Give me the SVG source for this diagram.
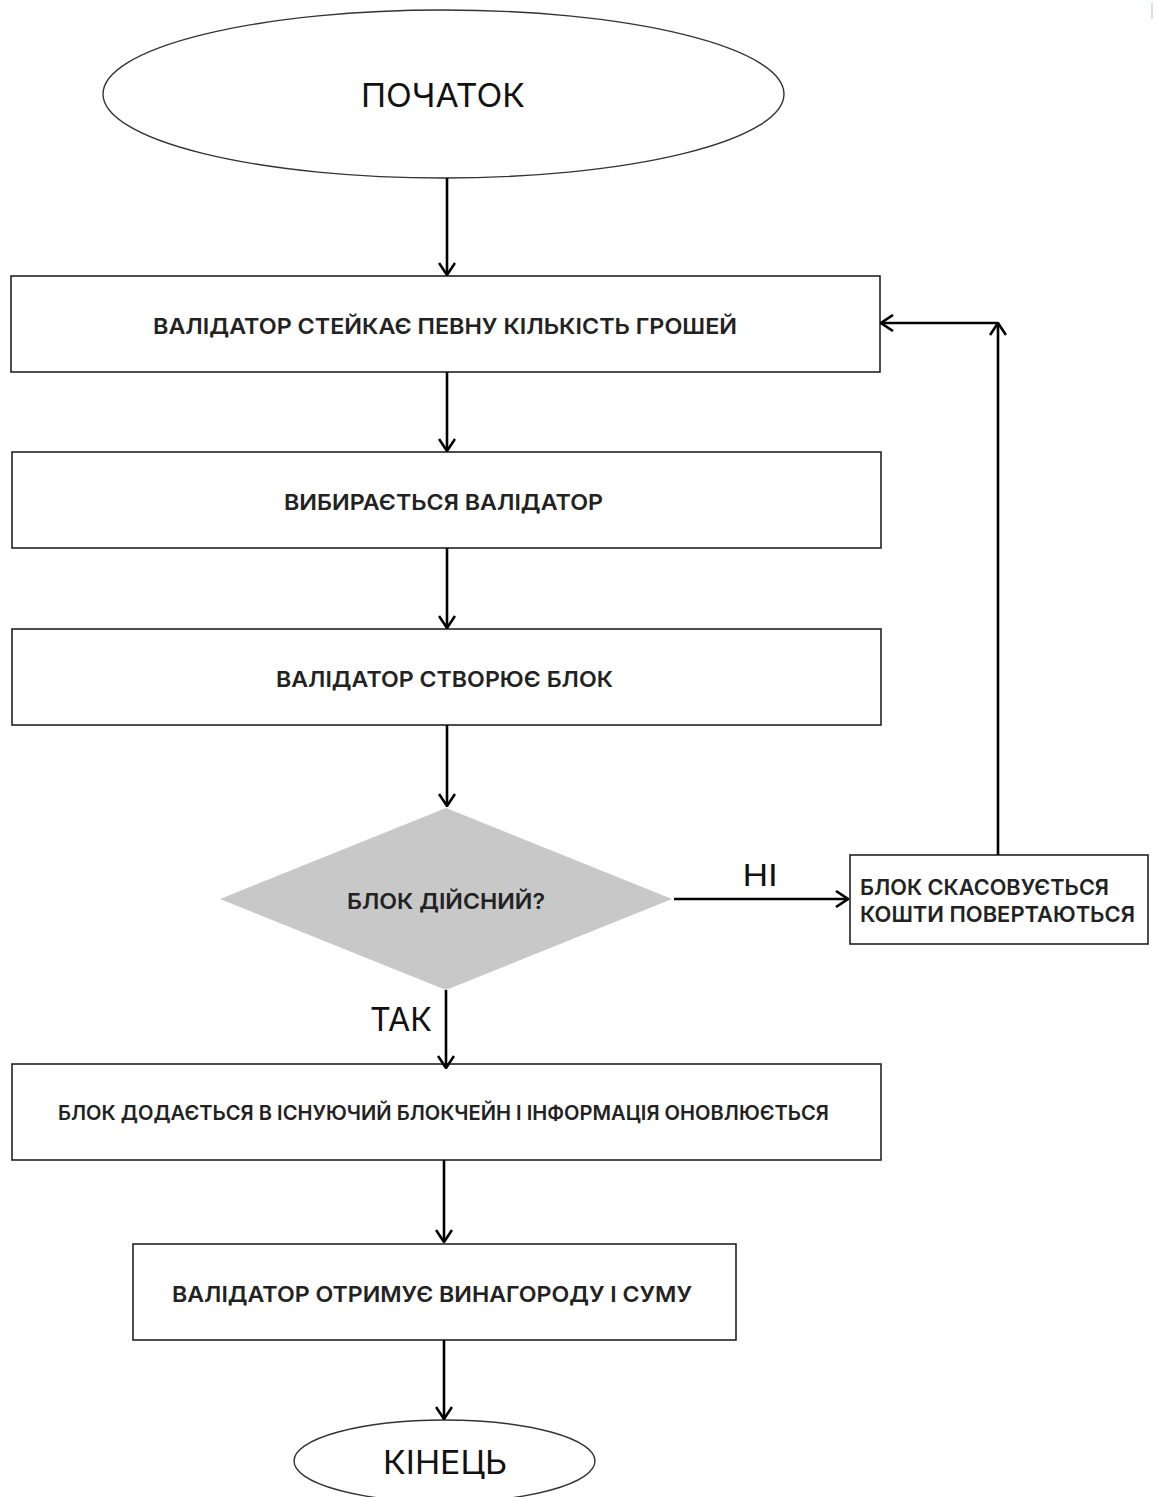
<svg xmlns="http://www.w3.org/2000/svg" width="1155" height="1497" viewBox="0 0 1155 1497">
<style>
.box{fill:#fff;stroke:#222;stroke-width:1.6}
.ell{fill:#fff;stroke:#333;stroke-width:1.4}
.dia{fill:#c8c8c8;stroke:none}
.t{font-family:Inter,"Liberation Sans",Arial,sans-serif;font-weight:600;fill:#222;text-anchor:middle;dominant-baseline:central}
.tl{font-family:Inter,"Liberation Sans",Arial,sans-serif;font-weight:600;fill:#222;dominant-baseline:central}
.big{font-weight:400;fill:#111}
.c{fill:none;stroke:#000;stroke-width:2.6}
</style>
<defs>
<marker id="arr" markerUnits="userSpaceOnUse" viewBox="0 0 14 18" refX="13" refY="9" markerWidth="14" markerHeight="18" orient="auto">
<path d="M1,1 L13,9 L1,17" fill="none" stroke="#000" stroke-width="2.6"/>
</marker>
</defs>
<rect width="1155" height="1497" fill="#fff"/>
<rect x="1151" y="3" width="2" height="16" fill="#cfe6dc"/>

<g id="start">
<ellipse class="ell" cx="443.5" cy="94" rx="340.5" ry="84"/>
<text class="t big" x="443" y="95" font-size="32" textLength="164" lengthAdjust="spacingAndGlyphs">ПОЧАТОК</text>
</g>
<g id="stake">
<rect class="box" x="11" y="276" width="869" height="96"/>
<text class="t" x="445" y="326" font-size="22" textLength="584" lengthAdjust="spacingAndGlyphs">ВАЛІДАТОР СТЕЙКАЄ ПЕВНУ КІЛЬКІСТЬ ГРОШЕЙ</text>
</g>
<g id="select">
<rect class="box" x="12" y="452" width="869" height="96"/>
<text class="t" x="443.5" y="502" font-size="22" textLength="319" lengthAdjust="spacingAndGlyphs">ВИБИРАЄТЬСЯ ВАЛІДАТОР</text>
</g>
<g id="create">
<rect class="box" x="12" y="629" width="869" height="96"/>
<text class="t" x="444.5" y="679" font-size="22" textLength="337" lengthAdjust="spacingAndGlyphs">ВАЛІДАТОР СТВОРЮЄ БЛОК</text>
</g>
<g id="decision">
<polygon class="dia" points="446,808 672,899 446,990 220,899"/>
<text class="t" x="446" y="901" font-size="22" textLength="198" lengthAdjust="spacingAndGlyphs">БЛОК ДІЙСНИЙ?</text>
</g>
<g id="cancel">
<rect class="box" x="850" y="855" width="298" height="89"/>
<text class="tl" x="860" y="887" font-size="22" textLength="249" lengthAdjust="spacingAndGlyphs">БЛОК СКАСОВУЄТЬСЯ</text>
<text class="tl" x="860" y="914" font-size="22" textLength="275" lengthAdjust="spacingAndGlyphs">КОШТИ ПОВЕРТАЮТЬСЯ</text>
</g>
<g id="add">
<rect class="box" x="12" y="1064" width="869" height="96"/>
<text class="t" x="443.5" y="1113" font-size="20" textLength="771" lengthAdjust="spacingAndGlyphs">БЛОК ДОДАЄТЬСЯ В ІСНУЮЧИЙ БЛОКЧЕЙН І ІНФОРМАЦІЯ ОНОВЛЮЄТЬСЯ</text>
</g>
<g id="reward">
<rect class="box" x="133" y="1244" width="603" height="96"/>
<text class="t" x="432" y="1294" font-size="22" textLength="520" lengthAdjust="spacingAndGlyphs">ВАЛІДАТОР ОТРИМУЄ ВИНАГОРОДУ І СУМУ</text>
</g>
<g id="end">
<ellipse class="ell" cx="444.5" cy="1461" rx="150.5" ry="41"/>
<text class="t big" x="445" y="1462" font-size="32" textLength="124" lengthAdjust="spacingAndGlyphs">КІНЕЦЬ</text>
</g>

<g id="connectors">
<line class="c" x1="447" y1="178" x2="447" y2="275" marker-end="url(#arr)"/>
<line class="c" x1="447" y1="372" x2="447" y2="451" marker-end="url(#arr)"/>
<line class="c" x1="447" y1="548" x2="447" y2="628" marker-end="url(#arr)"/>
<line class="c" x1="447" y1="725" x2="447" y2="806" marker-end="url(#arr)"/>
<line class="c" x1="674" y1="899" x2="848" y2="899" marker-end="url(#arr)"/>
<line class="c" x1="998" y1="855" x2="998" y2="323" marker-end="url(#arr)"/>
<line class="c" x1="998" y1="323" x2="881" y2="323" marker-end="url(#arr)"/>
<line class="c" x1="446" y1="990" x2="446" y2="1068" marker-end="url(#arr)"/>
<line class="c" x1="444" y1="1160" x2="444" y2="1242" marker-end="url(#arr)"/>
<line class="c" x1="444" y1="1340" x2="444" y2="1419" marker-end="url(#arr)"/>
<text class="t big" x="760" y="875" font-size="30" textLength="35" lengthAdjust="spacingAndGlyphs">НІ</text>
<text class="t big" x="401" y="1019" font-size="32" textLength="62" lengthAdjust="spacingAndGlyphs">ТАК</text>
</g>
</svg>
